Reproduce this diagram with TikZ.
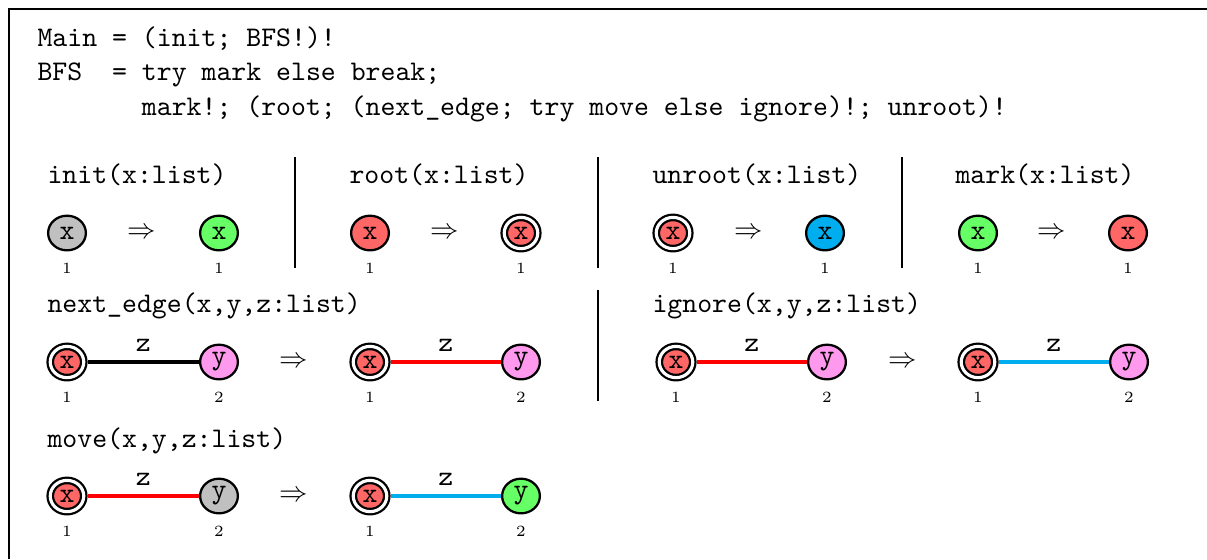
\documentclass[tikz,border=0pt]{standalone}
\usepackage{amsmath}
\usepackage{tikz}
\usetikzlibrary{shapes.geometric}

\definecolor{nred}{HTML}{FF6666}
\definecolor{ngreen}{HTML}{66FF66}
\definecolor{ngrey}{HTML}{C0C0C0}
\definecolor{nblue}{HTML}{00AEEF}
\definecolor{npink}{HTML}{FF99EE}

\begin{document}
\begin{tikzpicture}[x=0.352pt, y=-0.352pt]
\tikzset{code/.style={font=\ttfamily, inner sep=0pt, anchor=base west}}
\tikzset{gn/.style={ellipse, draw, line width=0.8pt, minimum width=13.3pt,
  minimum height=12.2pt, inner sep=0pt, font=\ttfamily}}
\tikzset{rt/.style={gn, double, double distance=1.1pt, minimum width=11.8pt,
  minimum height=11pt, outer sep=1.35pt}}
\tikzset{lbl/.style={font=\fontsize{5.5}{6}\selectfont, yshift=-12.4pt}}
\tikzset{ed/.style={line width=1.1pt}}
\tikzset{zl/.style={above, font=\ttfamily, inner sep=3pt}}
\tikzset{sep/.style={line width=0.4pt}}
%\tikzset{every label/.style={font=\tiny}}
\useasboundingbox (0,0) rectangle (1207,559);
\draw[line width=0.7pt] (9,559) -- (9,9) -- (1207,9);

% program
\node[code] (main) at (37,46) {Main = (init; BFS!)!};
\node[code] (bfs) at (37,80.5) {BFS~~= try mark else break;};
\node[code] (body) at (37,115) {~~~~~~~mark!; (root; (next\_edge; try move else ignore)!; unroot)!};

% rules, first row
\node[code] (hinit) at (47,183) {init(x:list)};
\node[gn, fill=ngrey, label={[lbl]center:1}] (i1) at (67,233) {x};
\node (ia) at (142,233) {$\Rightarrow$};
\node[gn, fill=ngreen, label={[lbl]center:1}] (i2) at (219,233) {x};
\draw[sep] (295,157) -- (295,268);

\node[code] (hroot) at (349,183) {root(x:list)};
\node[gn, fill=nred, label={[lbl]center:1}] (r1) at (370,233) {x};
\node (ra) at (445,233) {$\Rightarrow$};
\node[rt, fill=nred, label={[lbl]center:1}] (r2) at (521,233) {x};
\draw[sep] (598,157) -- (598,268);

\node[code] (hunroot) at (652,183) {unroot(x:list)};
\node[rt, fill=nred, label={[lbl]center:1}] (u1) at (673,233) {x};
\node (ua) at (749,233) {$\Rightarrow$};
\node[gn, fill=nblue, label={[lbl]center:1}] (u2) at (825,233) {x};
\draw[sep] (902,157) -- (902,268);

\node[code] (hmark) at (955,183) {mark(x:list)};
\node[gn, fill=ngreen, label={[lbl]center:1}] (m1) at (978,233) {x};
\node (ma) at (1052,233) {$\Rightarrow$};
\node[gn, fill=nred, label={[lbl]center:1}] (m2) at (1128,233) {x};

% second row
\node[code] (hnext) at (47,312) {next\_edge(x,y,z:list)};
\node[rt, fill=nred, label={[lbl]center:1}] (n1) at (67,362) {x};
\node[gn, fill=npink, label={[lbl]center:2}] (n2) at (219,362) {y};
\draw[ed] (n1) -- node[zl] {z} (n2);
\node (na) at (294,362) {$\Rightarrow$};
\node[rt, fill=nred, label={[lbl]center:1}] (n3) at (370,362) {x};
\node[gn, fill=npink, label={[lbl]center:2}] (n4) at (521,362) {y};
\draw[ed, red] (n3) -- node[zl, black] {z} (n4);
\draw[sep] (598,290) -- (598,401);

\node[code] (hignore) at (652,312) {ignore(x,y,z:list)};
\node[rt, fill=nred, label={[lbl]center:1}] (g1) at (676,362) {x};
\node[gn, fill=npink, label={[lbl]center:2}] (g2) at (827,362) {y};
\draw[ed, red] (g1) -- node[zl, black] {z} (g2);
\node (ga) at (903,362) {$\Rightarrow$};
\node[rt, fill=nred, label={[lbl]center:1}] (g3) at (978,362) {x};
\node[gn, fill=npink, label={[lbl]center:2}] (g4) at (1129,362) {y};
\draw[ed, nblue] (g3) -- node[zl, black] {z} (g4);

% third row
\node[code] (hmove) at (47,447) {move(x,y,z:list)};
\node[rt, fill=nred, label={[lbl]center:1}] (v1) at (67,496) {x};
\node[gn, fill=ngrey, label={[lbl]center:2}] (v2) at (219,496) {y};
\draw[ed, red] (v1) -- node[zl, black] {z} (v2);
\node (va) at (294,496) {$\Rightarrow$};
\node[rt, fill=nred, label={[lbl]center:1}] (v3) at (370,496) {x};
\node[gn, fill=ngreen, label={[lbl]center:2}] (v4) at (521,496) {y};
\draw[ed, nblue] (v3) -- node[zl, black] {z} (v4);
\end{tikzpicture}
\end{document}
